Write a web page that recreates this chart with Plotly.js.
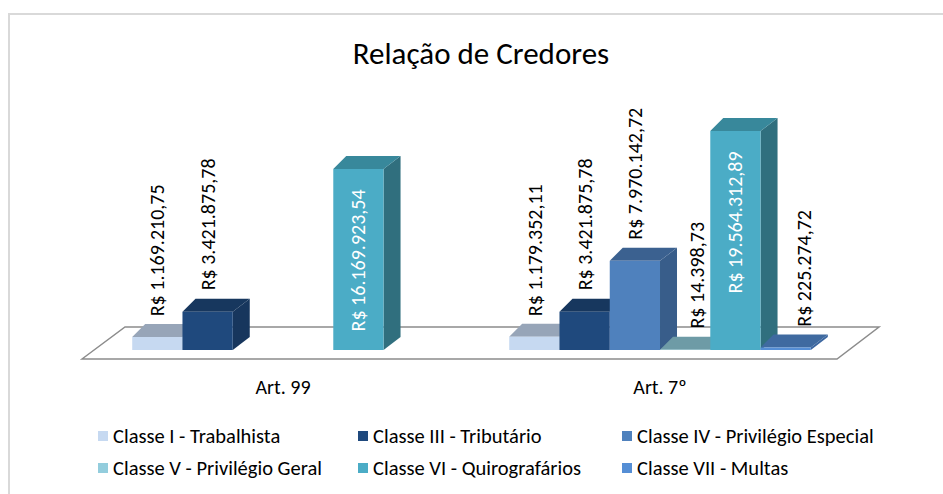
<!DOCTYPE html>
<html><head><meta charset="utf-8">
<script src="https://cdn.plot.ly/plotly-3.0.1.min.js"></script>
<style>html,body{margin:0;padding:0;background:#fff;} #chart{width:943px;height:494px;}</style>
</head><body><div id="chart"></div>
<script>
// ---------- DATA ----------
const categories = ['Art. 99', 'Art. 7º'];
const classNames = ['Classe I - Trabalhista', 'Classe III - Tributário', 'Classe IV - Privilégio Especial',
                    'Classe V - Privilégio Geral', 'Classe VI - Quirografários', 'Classe VII - Multas'];
const classeI   = [1169210.75, 1179352.11];
const classeIII = [3421875.78, 3421875.78];
const classeIV  = [null, 7970142.72];
const classeV   = [null, 14398.73];
const classeVI  = [16169923.54, 19564312.89];
const classeVII = [null, 225274.72];
const series = [classeI, classeIII, classeIV, classeV, classeVI, classeVII];

// ---------- STYLE ----------
const frontColors = ['#c6d9f1', '#1f497d', '#4f81bd', '#93cddd', '#4bacc6', '#558ed5'];
const topColors   = ['#97a5b8', '#17375e', '#3b6190', '#6e9ba6', '#38889b', '#3f6aa0'];
const sideColors  = ['#95a7bd', '#17365d', '#385d8a', '#6c99a5', '#306f7e', '#3b66a0'];
const FONT = 'Carlito, Calibri, Lato, sans-serif';

const W = 943, H = 494;
const M = {l: 70, r: 48, t: 100, b: 132};
const plotW = W - M.l - M.r, plotH = H - M.t - M.b;
const xRange = [-0.565, 1.6233];
const yRange = [-1072000, 22334000];
const ux = (xRange[1] - xRange[0]) / plotW;   // x units per pixel
const uy = (yRange[1] - yRange[0]) / plotH;   // y units per pixel
const dataX = px => xRange[0] + (px - M.l) * ux;
const paperX = px => (px - M.l) / plotW;
const paperY = py => (H - M.b - py) / plotH;

const bargap = 0.2, nT = series.length;
const groupW = 1 - bargap, bw = groupW / nT;
const depthL = 13 * ux, depthR = 17 * ux, depthY = 13 * uy;
const labelDx = [0, 0, 0, 12, 0, 18];

function fmt(v) {
  const parts = v.toFixed(2).split('.');
  const int = parts[0].replace(/\B(?=(\d{3})+(?!\d))/g, '.');
  return 'R$ ' + int + ',' + parts[1];
}

const xIdx = categories.map((c, i) => i);
const traces = series.map((vals, i) => ({
  type: 'bar', x: xIdx, y: vals, name: classNames[i],
  marker: {color: frontColors[i], line: {width: 0}},
  showlegend: false, hoverinfo: 'skip'
}));

const shapes = [];
// chart border
shapes.push({type: 'rect', xref: 'paper', yref: 'paper', x0: paperX(9), x1: paperX(960), y0: paperY(14), y1: paperY(510),
  line: {color: '#d9d9d9', width: 2}, fillcolor: 'rgba(0,0,0,0)', layer: 'below'});
// floor
const fy0 = -9 * uy, fy1 = 23 * uy;
shapes.push({type: 'path', xref: 'x', yref: 'y', layer: 'below',
  path: `M${dataX(82)},${fy0} L${dataX(125)},${fy1} L${dataX(879)},${fy1} L${dataX(837)},${fy0} Z`,
  fillcolor: '#ffffff', line: {color: '#8c8c8c', width: 1.5}});

const annotations = [];
categories.forEach((cat, c) => {
  series.forEach((vals, i) => {
    const v = vals[c];
    if (v === null) return;
    const xc = c - groupW / 2 + (i + 0.5) * bw;
    const xl = xc - bw / 2, xr = xc + bw / 2;
    shapes.push({type: 'path', xref: 'x', yref: 'y', layer: 'below', line: {width: 0},
      fillcolor: sideColors[i],
      path: `M${xr},0 L${xr},${v} L${xr + depthR},${v + depthY} L${xr + depthR},${depthY} Z`});
    shapes.push({type: 'path', xref: 'x', yref: 'y', layer: 'below', line: {width: 0},
      fillcolor: topColors[i],
      path: `M${xl},${v} L${xr},${v} L${xr + depthR},${v + depthY} L${xl + depthL},${v + depthY} Z`});
    const inside = v > 10000000;
    annotations.push({
      x: xc, y: v, xref: 'x', yref: 'y', text: fmt(v), showarrow: false, textangle: -90,
      xanchor: 'center', yanchor: inside ? 'top' : 'bottom',
      yshift: inside ? -18 : 19, xshift: labelDx[i],
      font: {family: FONT, size: 20, color: inside ? '#ffffff' : '#000000'}
    });
  });
});

// custom legend
const legCols = [98, 358, 622], legRows = [436, 468];
classNames.forEach((n, i) => {
  const px = legCols[i % 3], py = legRows[Math.floor(i / 3)];
  shapes.push({type: 'rect', xref: 'paper', yref: 'paper', x0: paperX(px), x1: paperX(px + 10),
    y0: paperY(py - 5), y1: paperY(py + 5), fillcolor: frontColors[i], line: {width: 0}});
  annotations.push({xref: 'paper', yref: 'paper', x: paperX(px + 13), y: paperY(py), text: n,
    showarrow: false, xanchor: 'left', yanchor: 'middle', font: {family: FONT, size: 20.5, color: '#000000'}});
});

const layout = {
  width: W, height: H, margin: M, paper_bgcolor: '#ffffff', plot_bgcolor: 'rgba(0,0,0,0)',
  title: {text: 'Relação de Credores', x: 481 / W, xanchor: 'center', y: 1 - 53 / H, yanchor: 'middle',
    font: {family: FONT, size: 31, color: '#000000'}},
  barmode: 'group', bargap: bargap, bargroupgap: 0,
  xaxis: {range: xRange, tickvals: xIdx, ticktext: categories, showgrid: false, zeroline: false,
    showline: false, ticks: '', ticklabelstandoff: 11, tickfont: {family: FONT, size: 20, color: '#000000'},
    fixedrange: true},
  yaxis: {range: yRange, visible: false, fixedrange: true},
  shapes: shapes, annotations: annotations, showlegend: false
};
Plotly.newPlot('chart', traces, layout, {displayModeBar: false, staticPlot: true});
</script></body></html>
